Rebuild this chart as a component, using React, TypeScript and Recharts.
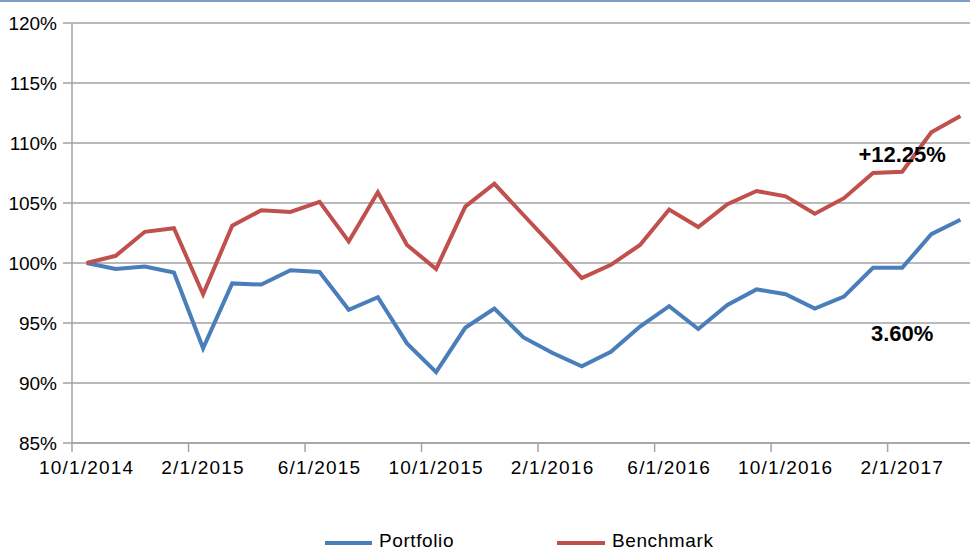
import React from "react";
import {
    CartesianGrid,
    Line,
    LineChart,
    ReferenceDot,
    XAxis,
    YAxis,
} from "recharts";

const dates = [
    "10/1/2014", "11/1/2014", "12/1/2014", "1/1/2015", "2/1/2015", "3/1/2015",
    "4/1/2015", "5/1/2015", "6/1/2015", "7/1/2015", "8/1/2015", "9/1/2015",
    "10/1/2015", "11/1/2015", "12/1/2015", "1/1/2016", "2/1/2016", "3/1/2016",
    "4/1/2016", "5/1/2016", "6/1/2016", "7/1/2016", "8/1/2016", "9/1/2016",
    "10/1/2016", "11/1/2016", "12/1/2016", "1/1/2017", "2/1/2017", "3/1/2017",
    "4/1/2017",
];

const portfolio = [
    100, 99.5, 99.7, 99.2, 92.9, 98.3, 98.2, 99.4, 99.25, 96.1, 97.15, 93.3,
    90.9, 94.6, 96.2, 93.8, 92.5, 91.4, 92.6, 94.7, 96.4, 94.5, 96.5, 97.8,
    97.4, 96.2, 97.2, 99.6, 99.6, 102.4, 103.6,
];

const benchmark = [
    100, 100.6, 102.6, 102.9, 97.4, 103.1, 104.4, 104.25, 105.1, 101.8, 105.9,
    101.5, 99.5, 104.7, 106.6, 104.0, 101.4, 98.75, 99.85, 101.5, 104.45, 103.0,
    104.9, 106.0, 105.55, 104.1, 105.4, 107.5, 107.6, 110.9, 112.25,
];

const yTicks = [85, 90, 95, 100, 105, 110, 115, 120];

const notes = [
    { date: "2/1/2017", value: 109.1, text: "+12.25%" },
    { date: "2/1/2017", value: 94.15, text: "3.60%" },
];

const data = dates.map((date, i) => ({
    date,
    portfolio: portfolio[i],
    benchmark: benchmark[i],
}));

const FONT = "'Liberation Sans', Arial, sans-serif";
const GRID = "#a3a3a3";
const BLUE = "#4a7ebb";
const RED = "#c0504d";

const CHART_W = 975;
const LEFT = 72;
const BAND = (CHART_W - LEFT) / dates.length;

const DateTick = ({ x, y, payload }: any) => (
    <g>
        <line x1={x - BAND / 2} y1={y} x2={x - BAND / 2} y2={y + 9} stroke={GRID} strokeWidth={1.5} />
        <text
            x={x}
            y={y + 24}
            textAnchor="middle"
            dominantBaseline="central"
            fontFamily={FONT}
            fontSize={19}
            letterSpacing={1.2}
            fill="#000"
        >
            {payload.value}
        </text>
    </g>
);

export default function App() {
    return (
        <div
            style={{
                position: "absolute",
                left: 0,
                top: 0,
                width: 970,
                height: 553,
                overflow: "hidden",
                background: "#fff",
                fontFamily: FONT,
            }}
        >
            <div style={{ position: "absolute", left: 0, top: 0, width: 970, height: 2, background: "#7f9cc4" }} />
            <LineChart
                width={CHART_W}
                height={553}
                data={data}
                margin={{ top: 23, right: 0, left: 0, bottom: 70 }}
            >
                <CartesianGrid vertical={false} stroke={GRID} strokeWidth={1.5} />
                <XAxis
                    dataKey="date"
                    scale="band"
                    interval={3}
                    height={40}
                    tickLine={false}
                    tickSize={0}
                    tickMargin={0}
                    axisLine={{ stroke: GRID, strokeWidth: 1.5 }}
                    tick={<DateTick />}
                />
                <YAxis
                    width={LEFT}
                    domain={[85, 120]}
                    ticks={yTicks}
                    tickFormatter={(v) => `${v}%`}
                    tickSize={9}
                    tickMargin={6}
                    tickLine={{ stroke: GRID, strokeWidth: 1.5 }}
                    axisLine={{ stroke: GRID, strokeWidth: 1.5 }}
                    tick={{ fill: "#000", fontSize: 19, fontFamily: FONT }}
                />
                <Line
                    dataKey="portfolio"
                    name="Portfolio"
                    stroke={BLUE}
                    strokeWidth={4}
                    dot={false}
                    isAnimationActive={false}
                />
                <Line
                    dataKey="benchmark"
                    name="Benchmark"
                    stroke={RED}
                    strokeWidth={4}
                    dot={false}
                    isAnimationActive={false}
                />
                {notes.map((n) => (
                    <ReferenceDot
                        key={n.text}
                        x={n.date}
                        y={n.value}
                        r={0}
                        fill="none"
                        stroke="none"
                        label={{
                            value: n.text,
                            position: "center",
                            fill: "#000",
                            fontSize: 22,
                            fontWeight: "bold",
                            fontFamily: FONT,
                        }}
                    />
                ))}
            </LineChart>
            {/* legend sits on the bottom edge, nudged up so the text stays whole */}
            <div style={{ position: "absolute", left: 325, top: 541, width: 47, height: 4, background: BLUE }} />
            <div style={{ position: "absolute", left: 379, top: 530, fontSize: 19, lineHeight: "22px", letterSpacing: 0.6 }}>
                Portfolio
            </div>
            <div style={{ position: "absolute", left: 557, top: 541, width: 48, height: 4, background: RED }} />
            <div style={{ position: "absolute", left: 612, top: 530, fontSize: 19, lineHeight: "22px", letterSpacing: 0.6 }}>
                Benchmark
            </div>
        </div>
    );
}
